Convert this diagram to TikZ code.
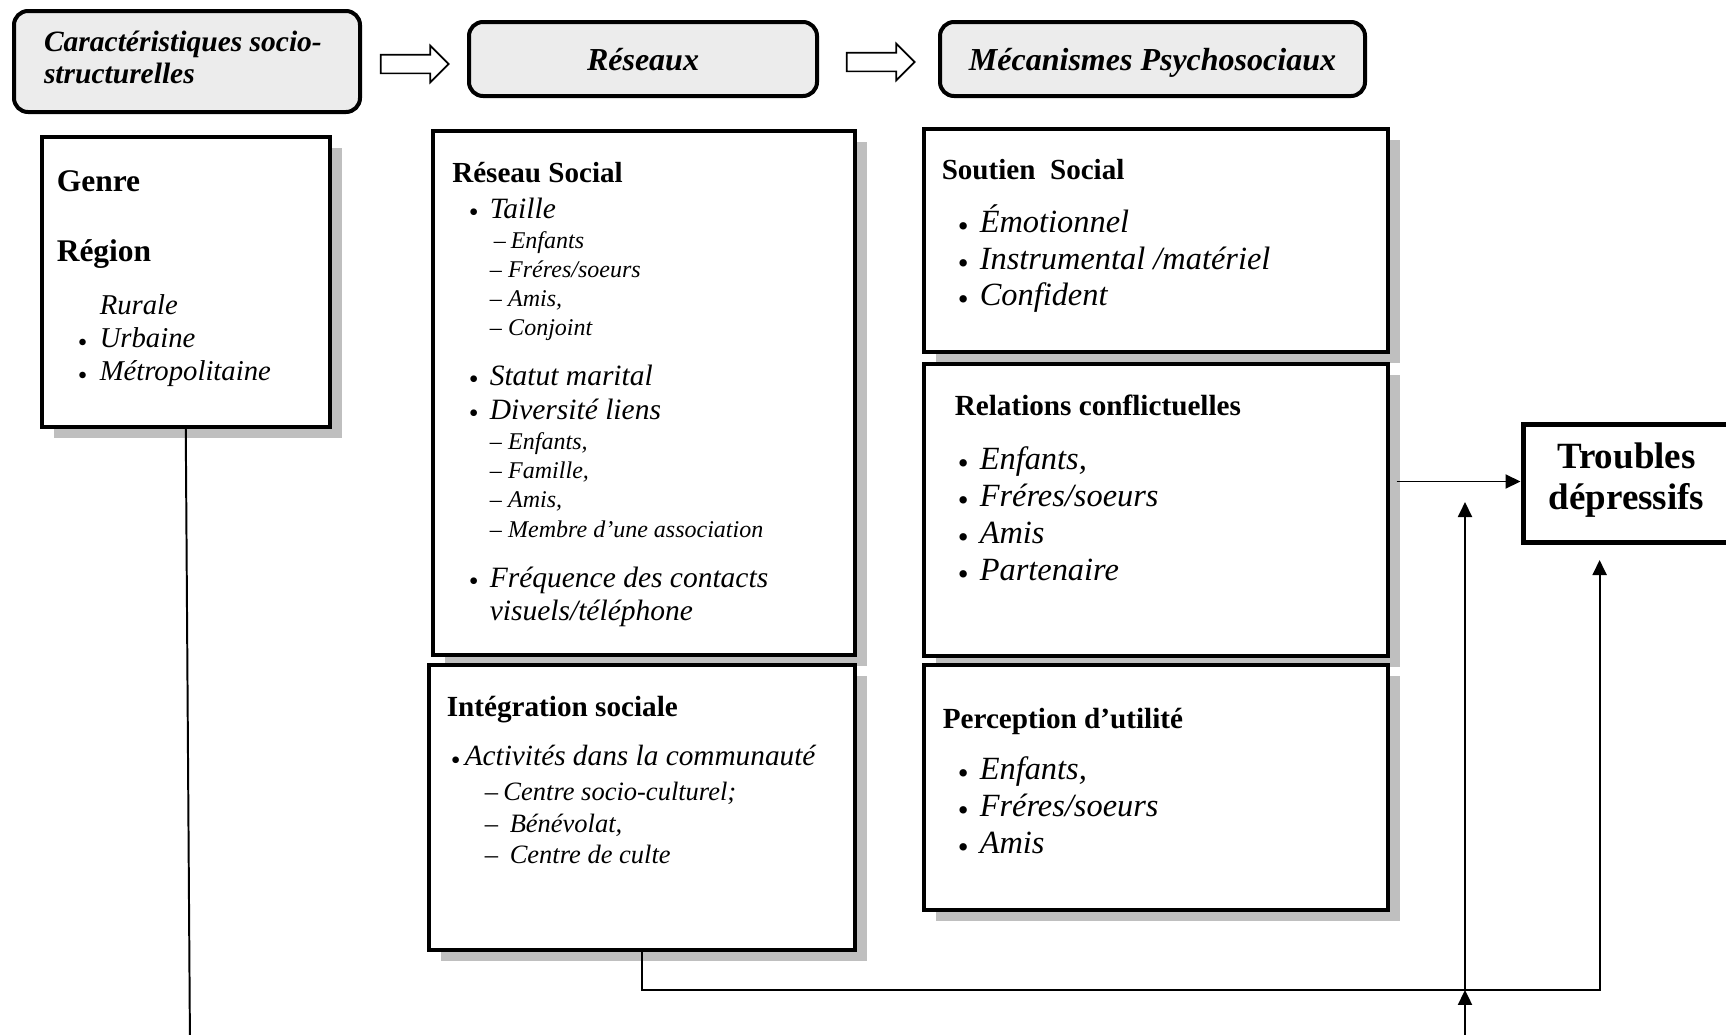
\documentclass[tikz,border=0pt]{standalone}
\usepackage{fontspec}
\setmainfont{Liberation Serif}
\usepackage{graphicx}
\usepackage{tikz}
\usetikzlibrary{positioning,shapes.arrows,arrows.meta,shadows}

% 1 px of the drawing = 0.025cm
\newdimen\px \px=0.71132pt
% one line: baseline skip, font size, indent, text
\newcommand{\ligne}[4]{{\fontsize{#2\px}{#1\px}\selectfont\hspace*{#3\px}#4\par}}
\newcommand{\panneau}[3]{\parbox[t][#2\px][t]{#1\px}{\lineskiplimit=-\maxdimen\mbox{}\par#3}}
\newcommand{\puce}[2]{\makebox[#1\px][l]{\raisebox{-0.12em}{\scalebox{0.95}{•}}}\textit{#2}}
\newcommand{\tiret}[2]{\makebox[#1\px][l]{\itshape –}\textit{#2}}

\begin{document}
\begin{tikzpicture}[
  panel/.style ={draw, line width=2.5pt, fill=white, inner sep=0pt,
                 anchor=north west,
                 general shadow={fill=black!25, shadow xshift=0.3cm,
                                 shadow yshift=-0.275cm}},
  entete/.style={draw, line width=2.85pt, fill=gray!15,
                 rounded corners=0.35cm, inner sep=0pt, anchor=north west},
  issue/.style ={draw, line width=3.55pt, fill=white, inner sep=0pt,
                 anchor=north west},
  bloc/.style  ={single arrow, draw, line width=1.2pt, fill=white,
                 inner sep=0pt, minimum height=1.7cm,
                 text height=0.425cm, text depth=0pt,
                 single arrow head extend=0.225cm},
  lien/.style  ={line width=1.4pt},
  fl/.style    ={lien, -{Triangle[length=0.375cm, width=0.35cm]}}
]
\useasboundingbox (0,0) rectangle (43.15,-25.85);

%% ---- Header boxes --------------------------------------------------
\node[entete] (H1) at (0.3,-0.225) {\panneau{346}{101}{%
  \ligne{40}{29.5}{30}{\textbf{\textit{Caractéristiques socio-}}}
  \ligne{32}{29.5}{30}{\textbf{\textit{structurelles}}}}};
\node[entete] (H2) at (11.675,-0.5) {\panneau{348}{74}{\centering
  \ligne{48.5}{32}{0}{\textbf{\textit{Réseaux}}}}};
\node[entete] (H3) at (23.45,-0.5) {\panneau{425}{74}{\centering
  \ligne{48.5}{32}{0}{\textbf{\textit{Mécanismes Psychosociaux}}}}};

%% ---- Hollow arrows between headers ---------------------------------
\node[bloc] (A1) at (10.25,-1.6) {};
\node[bloc] (A2) at (21.9,-1.55) {};

%% ---- Socio-structural box ------------------------------------------
\node[panel] (G) at (1.0,-3.375) {\panneau{288}{290}{%
  \ligne{55}{31.5}{15}{\textbf{Genre}}
  \ligne{70}{31.5}{15}{\textbf{Région}}
  \ligne{53}{28.7}{58}{\textit{Rurale}}
  \ligne{33}{28.7}{36}{\puce{22}{Urbaine}}
  \ligne{33}{28.7}{36}{\puce{22}{Métropolitaine}}}};

%% ---- Network boxes -------------------------------------------------
\node[panel] (R) at (10.775,-3.225) {\panneau{422}{524}{%
  \ligne{51.5}{29.1}{19.5}{\textbf{Réseau Social}}
  \ligne{36}{29.5}{36}{\puce{21}{Taille}}
  \ligne{30}{24}{61}{\tiret{17}{Enfants}}
  \ligne{29}{24}{57}{\tiret{18.5}{Fréres/soeurs}}
  \ligne{29}{24}{57}{\tiret{18.5}{Amis,}}
  \ligne{29}{24}{57}{\tiret{18.5}{Conjoint}}
  \ligne{50}{29.5}{36}{\puce{21}{Statut marital}}
  \ligne{34}{29.5}{36}{\puce{21}{Diversité liens}}
  \ligne{30.5}{24}{57}{\tiret{18.5}{Enfants,}}
  \ligne{29}{24}{57}{\tiret{18.5}{Famille,}}
  \ligne{29}{24}{57}{\tiret{18.5}{Amis,}}
  \ligne{29.5}{24}{57}{\tiret{18.5}{Membre d’une association}}
  \ligne{50}{29.5}{36}{\puce{21}{Fréquence des contacts}}
  \ligne{33}{29.5}{57}{\textit{visuels/téléphone}}}};

\node[panel] (I) at (10.675,-16.575) {\panneau{426}{285}{%
  \ligne{52}{29.2}{18}{\textbf{Intégration sociale}}
  \ligne{49}{29.3}{22}{\puce{14}{Activités dans la communauté}}
  \ligne{34.3}{26.5}{56}{\tiret{18.7}{Centre socio-culturel;}}
  \ligne{32.4}{26.5}{56}{\tiret{25}{Bénévolat,}}
  \ligne{31}{26.5}{56}{\tiret{25}{Centre de culte}}}};

%% ---- Psychosocial boxes --------------------------------------------
\node[panel] (S) at (23.05,-3.175) {\panneau{464}{223}{%
  \ligne{51}{29.1}{18}{\textbf{Soutien~~Social}}
  \ligne{53}{32.4}{34}{\puce{22}{Émotionnel}}
  \ligne{36.5}{32.4}{34}{\puce{22}{Instrumental /matériel}}
  \ligne{36.5}{32.4}{34}{\puce{22}{Confident}}}};

\node[panel] (C) at (23.05,-9.05) {\panneau{464}{292}{%
  \ligne{51.5}{29.2}{31}{\textbf{Relations conflictuelles}}
  \ligne{54}{32.4}{34}{\puce{22}{Enfants,}}
  \ligne{37}{32.4}{34}{\puce{22}{Fréres/soeurs}}
  \ligne{37}{32.4}{34}{\puce{22}{Amis}}
  \ligne{37}{32.4}{34}{\puce{22}{Partenaire}}}};

\node[panel] (P) at (23.05,-16.575) {\panneau{464}{245}{%
  \ligne{63.7}{29.2}{19}{\textbf{Perception d’utilité}}
  \ligne{51.3}{32.4}{34}{\puce{22}{Enfants,}}
  \ligne{37}{32.4}{34}{\puce{22}{Fréres/soeurs}}
  \ligne{36.7}{32.4}{34}{\puce{22}{Amis}}}};

%% ---- Outcome -------------------------------------------------------
\node[issue] (T) at (38.0125,-10.55) {\panneau{207}{118}{\centering
  \ligne{44}{37}{0}{\textbf{Troubles}}
  \ligne{41}{37}{0}{\textbf{dépressifs}}}};

%% ---- Connectors ----------------------------------------------------
\coordinate (gbas) at (4.75,-26.2);
\coordinate (tbas) at (39.99,-14.0);
\coordinate (bas)  at (36.625,-26.2);
\coordinate (haut) at (36.625,-12.55);

\draw[lien] (G.south) -- (gbas);
\draw[fl] ([xshift=0.175cm,yshift=0.05cm]T.west -| C.east)
      -- ([yshift=0.05cm]T.west);
\draw[fl] (I.south) -- ++(0,-0.96) coordinate (coude) -| (tbas);
\draw[fl] (bas) -- (bas |- coude);
\draw[fl] (bas |- coude) -- (haut);

\end{tikzpicture}
\end{document}
